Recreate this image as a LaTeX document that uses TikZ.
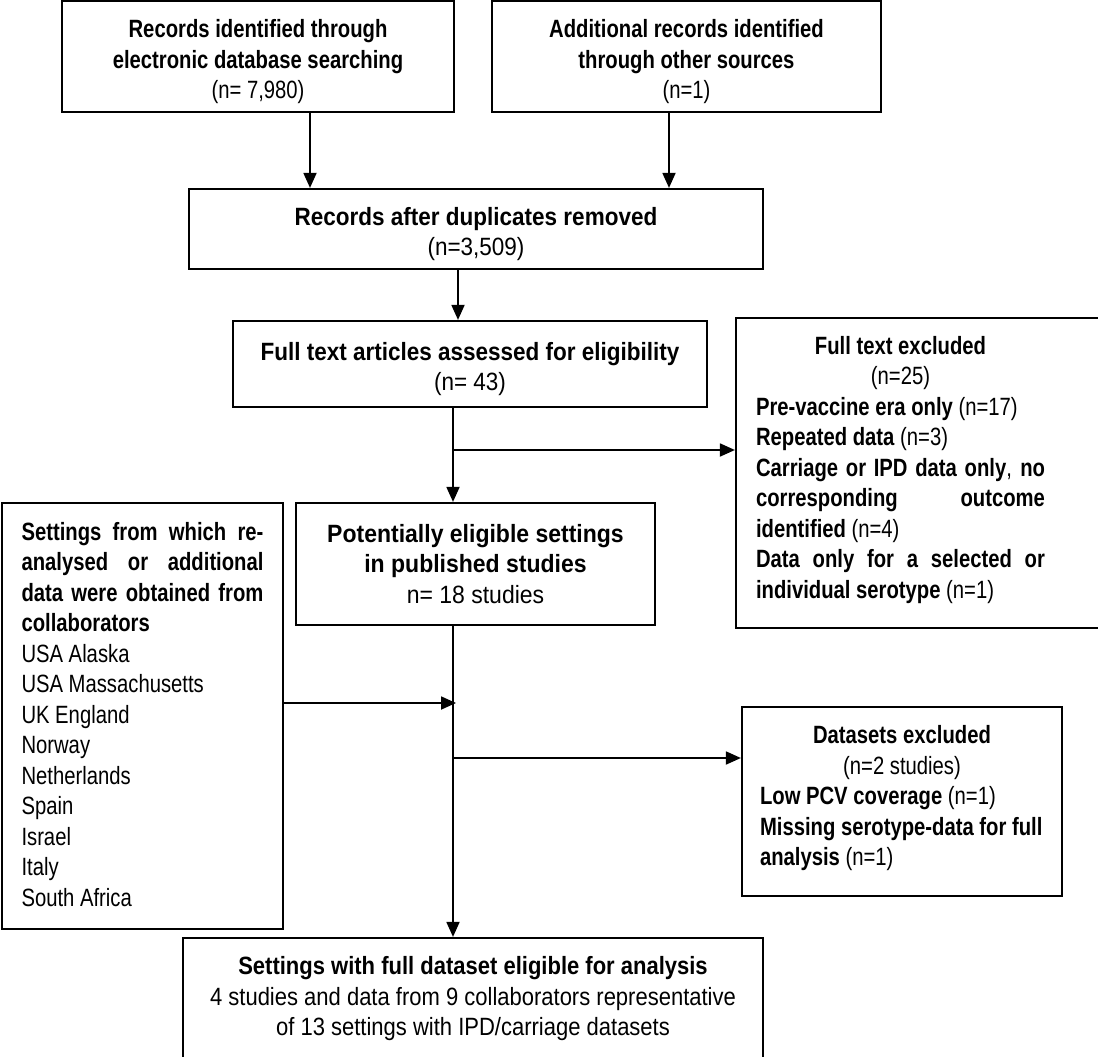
\documentclass[tikz,border=0pt]{standalone}
\usepackage{fontspec}
\setmainfont[FakeStretch=0.81]{Liberation Sans}
\newfontfamily\fC[FakeStretch=0.90]{Liberation Sans}
\newfontfamily\fF[FakeStretch=0.92]{Liberation Sans}
\newfontfamily\fH[FakeStretch=0.88]{Liberation Sans}
\usetikzlibrary{arrows.meta}
\newcommand\fs{\fontsize{25}{30.5}\selectfont}
\newcommand\J[1]{\makebox[\linewidth][s]{#1}}
\newcommand\dn{\rule{0pt}{28.3pt}}
\begin{document}
\begin{tikzpicture}[x=1pt,y=-1pt,
  box/.style={draw,line width=2.2pt,inner sep=0pt,align=center,font=\fs},
  arr/.style={line width=1.8pt,-{Triangle[length=15pt,width=13pt]}}]
\useasboundingbox (0,0) rectangle (1098,1057);
\clip (0,0) rectangle (1098,1057);

\node[box,minimum width=392pt,minimum height=111pt] (A) at (258,56.5)
  {\dn\textbf{Records identified through}\\\textbf{electronic database searching}\\(n= 7,980)};
\node[box,minimum width=389pt,minimum height=111pt] (B) at (686.5,56.5)
  {\dn\textbf{Additional records identified}\\\textbf{through other sources}\\(n=1)};
\node[box,font=\fs\fC,minimum width=574pt,minimum height=80pt] (C) at (476,229)
  {\dn\textbf{Records after duplicates removed}\\(n=3,509)};
\node[box,font=\fs\fC,minimum width=474pt,minimum height=86pt] (D) at (470,364)
  {\dn\textbf{Full text articles assessed for eligibility}\\(n= 43)};
\node[box,minimum width=374pt,minimum height=310pt] (E) at (923,473)
  {\parbox{289pt}{\fs\centering\textbf{Full text excluded}\\(n=25)\par
   \raggedright\textbf{Pre-vaccine era only} (n=17)\\
   \textbf{Repeated data} (n=3)\\
   \J{\textbf{Carriage or IPD data only}, \textbf{no}}\\
   \J{\textbf{corresponding outcome}}\\
   \textbf{identified} (n=4)\\
   \J{\textbf{Data only for a selected or}}\\
   \textbf{individual serotype} (n=1)\rule[-11.3pt]{0pt}{0pt}}\hspace*{45pt}};
\node[box,font=\fs\fF,minimum width=359pt,minimum height=122pt] (F) at (475.5,564)
  {\textbf{Potentially eligible settings}\\\textbf{in published studies}\\n= 18 studies};
\node[box,minimum width=281pt,minimum height=426pt] (G) at (142.5,716)
  {\parbox{242pt}{\fs\raggedright
   \J{\textbf{Settings from which re-}}\\
   \J{\textbf{analysed or additional}}\\
   \J{\textbf{data were obtained from}}\\
   \textbf{collaborators}\\
   USA Alaska\\USA Massachusetts\\UK England\\Norway\\Netherlands\\Spain\\Israel\\Italy\\South Africa\rule[-4pt]{0pt}{0pt}}};
\node[box,minimum width=320pt,minimum height=189pt] (I) at (902,801.5)
  {\parbox{284pt}{\fs\centering\textbf{Datasets excluded}\\(n=2 studies)\par
   \raggedright\textbf{Low PCV coverage} (n=1)\\
   \mbox{\textbf{Missing serotype-data for full}}\\
   \textbf{analysis} (n=1)\rule[-11.3pt]{0pt}{0pt}}};
\node[box,font=\fs\fH,minimum width=580pt,minimum height=122pt] (H) at (473,999)
  {\textbf{Settings with full dataset eligible for analysis}\\
   4 studies and data from 9 collaborators representative\\
   of 13 settings with IPD/carriage datasets};

\coordinate (xa) at (310,0);
\coordinate (xb) at (669,0);
\coordinate (xc) at (458,0);
\coordinate (xd) at (453,0);
\coordinate (j1) at (453,450);
\coordinate (j2) at (456,703);
\coordinate (j3) at (453,758);

\draw[arr] (A.south -| xa) -- (C.north -| xa);
\draw[arr] (B.south -| xb) -- (C.north -| xb);
\draw[arr] (C.south -| xc) -- (D.north -| xc);
\draw[arr] (D.south -| xd) -- (F.north -| xd);
\draw[arr] (j1) -- (j1 -| E.west);
\draw[arr] (F.south -| xd) -- (H.north -| xd);
\draw[arr] (j2 -| G.east) -- (j2);
\draw[arr] (j3) -- (j3 -| I.west);
\end{tikzpicture}
\end{document}
